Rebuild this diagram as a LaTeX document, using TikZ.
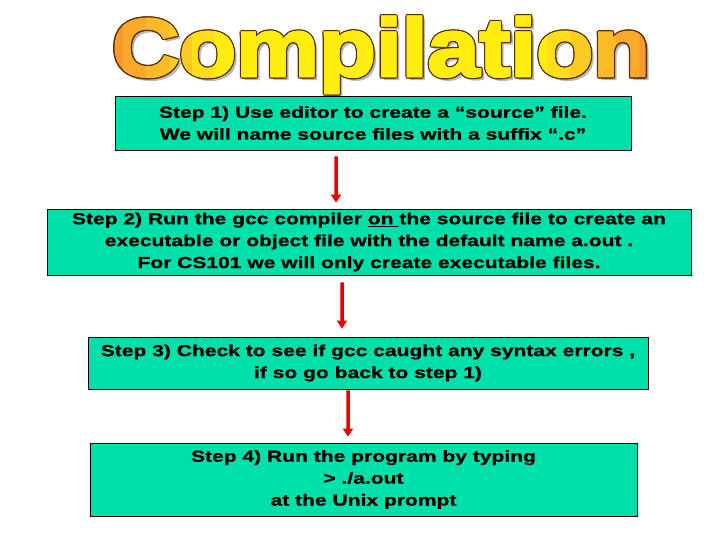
\documentclass[tikz,border=0pt]{standalone}
\usepackage{fontspec}
\setmainfont{Liberation Sans}
\newfontfamily\stepfont{Liberation Sans}[UprightFont={* Bold}, FakeStretch=1.32, FakeBold=1]
\newfontfamily\titlefont{Liberation Sans}[UprightFont={* Bold}, FakeStretch=1.14, FakeBold=3]
\usetikzlibrary{arrows.meta}
\definecolor{boxfill}{HTML}{00E0AA}
\definecolor{arrowred}{HTML}{E80000}
\definecolor{titleedge}{HTML}{5A3008}
\definecolor{titleshadow}{HTML}{B8B8B8}
\tikzset{
  stepbox/.style={draw=black, line width=0.8bp, fill=boxfill, inner sep=0pt, align=center,
    font=\stepfont\fontsize{16}{22}\selectfont},
  flow/.style={draw=arrowred, line width=3.5bp, -{Triangle[length=8bp,width=10bp]}},
  titletext/.style={font=\titlefont\fontsize{82}{82}\selectfont, inner sep=0pt, anchor=base}
}
\newcommand{\titleword}{Compilation}
\begin{document}
\begin{tikzpicture}[x=1bp,y=-1bp]
\useasboundingbox (0,0) rectangle (720,540);
% title
\node[titletext, text=titleshadow] at (384,79) {\titleword};
\foreach \dx/\dy in {-1.5/0,1.5/0,0/-1.5,0/1.5,-1.1/-1.1,1.1/1.1,-1.1/1.1,1.1/-1.1}
  \node[titletext, text=titleedge] at (381+\dx,76+\dy) {\titleword};
\foreach \i/\c in {0/F79A2E,1/F9AA2A,2/FBBB26,3/FDCC22,4/FEDD1A,5/FFEE10}{
  \begin{scope}
    \clip (100+\i*23,0) rectangle (662-\i*23,100);
    \node[titletext] at (381,76) {\color[HTML]{\c}\titleword};
  \end{scope}
}
% boxes
\node[stepbox, minimum width=516bp, minimum height=54bp] (b1) at (373,123)
  {Step 1) Use editor to create a “source” file.\\We will name source files with a suffix “.c”};
\node[stepbox, minimum width=644bp, minimum height=66bp] (b2) at (369,242)
  {Step 2) Run the gcc compiler \underline{on }the source file to create an\\executable or object file with the default name a.out .\\For CS101 we will only create executable files.};
\node[stepbox, minimum width=560bp, minimum height=52bp] (b3) at (368,363)
  {Step 3) Check to see if gcc caught any syntax errors ,\\if so go back to step 1)};
\node[stepbox, minimum width=547bp, minimum height=73bp] (b4) at (363.5,479.5)
  {Step 4) Run the program by typing\\> ./a.out\\at the Unix prompt};
% arrows
\draw[flow] ([xshift=-37bp,yshift=-6bp]b1.south) -- ([xshift=-33bp,yshift=6bp]b2.north);
\draw[flow] ([xshift=-27bp,yshift=-7bp]b2.south) -- ([xshift=-26bp,yshift=8bp]b3.north);
\draw[flow] ([xshift=-20bp,yshift=-1bp]b3.south) -- ([xshift=-15.5bp,yshift=6bp]b4.north);
\end{tikzpicture}
\end{document}
